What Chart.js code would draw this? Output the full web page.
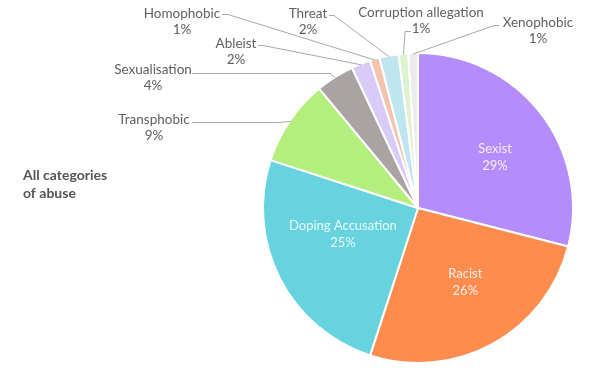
<!DOCTYPE html>
<html>
<head>
<meta charset="utf-8">
<script src="https://cdn.jsdelivr.net/npm/chart.js@4/dist/chart.umd.min.js"></script>
<style>
  html, body { margin: 0; padding: 0; background: #fff; }
  #wrap { width: 598px; height: 372px; }
</style>
</head>
<body>
<div id="wrap"><canvas id="abuse-pie" width="598" height="372"></canvas></div>
<script>
'use strict';

// ── Data ──────────────────────────────────────────────────────────────────────

const categories = ['Sexist', 'Racist', 'Doping Accusation', 'Transphobic', 'Sexualisation',
                    'Ableist', 'Homophobic', 'Threat', 'Corruption allegation', 'Xenophobic'];
const shares     = [29, 26, 25, 9, 4, 2, 1, 2, 1, 1];
const titleLines = ['All categories', 'of abuse'];

// ── Styles ────────────────────────────────────────────────────────────────────

const sliceColors = ['#b48cfb', '#fd8c4e', '#67d3df', '#b4ef7d', '#a9a3a3',
                     '#d8cbf7', '#f4c3ae', '#bfe5ee', '#def2cf', '#ebebed'];

// inside labels: small nudge from the mid-angle point
const insideNudge = {
  'Sexist':            [6, 4],
  'Racist':            [4, -5],
  'Doping Accusation': [5, -15]
};

// outside callouts: text centre, leader start and elbow; the end sits on the slice
const callouts = {
  'Homophobic':            { x: 182, y: 14, from: [222, 14], elbow: [228, 14] },
  'Ableist':               { x: 236, y: 44, from: [258, 45], elbow: [263, 45] },
  'Sexualisation':         { x: 153, y: 70, from: [192, 73], elbow: [330, 73] },
  'Transphobic':           { x: 154, y: 120, from: [192, 122], elbow: [278, 122] },
  'Threat':                { x: 308, y: 14, from: [329, 15], elbow: [334, 15] },
  'Corruption allegation': { x: 421, y: 13, from: [411, 31], elbow: [405, 31] },
  'Xenophobic':            { x: 538, y: 23, from: [499, 25], elbow: [494, 25] }
};

const FONT = 'Lato, "Liberation Sans", sans-serif';

// ── Label plugin ──────────────────────────────────────────────────────────────

const pieLabels = {
  id: 'pieLabels',
  afterDatasetsDraw(chart) {
    const ctx = chart.ctx;
    const meta = chart.getDatasetMeta(0);
    ctx.save();
    ctx.textAlign = 'center';
    ctx.textBaseline = 'middle';

    meta.data.forEach((arc, i) => {
      const name = categories[i];
      const pct = shares[i] + '%';
      const { x, y, startAngle, endAngle, outerRadius } =
        arc.getProps(['x', 'y', 'startAngle', 'endAngle', 'outerRadius'], true);
      const mid = (startAngle + endAngle) / 2;

      const nudge = insideNudge[name];
      if (nudge) {
        const r = outerRadius * 0.58;
        const cx = x + Math.cos(mid) * r + nudge[0];
        const cy = y + Math.sin(mid) * r + nudge[1];
        ctx.fillStyle = 'rgba(255,255,255,0.85)';
        ctx.font = '13px ' + FONT;
        ctx.fillText(name, cx, cy - 8);
        ctx.fillText(pct, cx, cy + 9);
        return;
      }

      const c = callouts[name];
      if (!c) return;
      const ex = x + Math.cos(mid) * (outerRadius - 1);
      const ey = y + Math.sin(mid) * (outerRadius - 1);
      ctx.strokeStyle = '#a8a8a8';
      ctx.lineWidth = 1;
      ctx.beginPath();
      ctx.moveTo(c.from[0], c.from[1] + 0.5);
      ctx.lineTo(c.elbow[0], c.elbow[1] + 0.5);
      ctx.lineTo(ex, ey);
      ctx.stroke();

      ctx.fillStyle = '#606060';
      ctx.font = '13.5px ' + FONT;
      ctx.fillText(name, c.x, c.y);
      ctx.fillText(pct, c.x, c.y + 16);
    });

    // side title
    ctx.textAlign = 'left';
    ctx.fillStyle = '#555555';
    ctx.font = 'bold 14px ' + FONT;
    titleLines.forEach((t, k) => ctx.fillText(t, 23, 175 + k * 18));
    ctx.restore();
  }
};

// ── Chart ─────────────────────────────────────────────────────────────────────

new Chart(document.getElementById('abuse-pie'), {
  type: 'pie',
  data: {
    labels: categories,
    datasets: [{
      data: shares,
      backgroundColor: sliceColors,
      borderColor: '#ffffff',
      borderWidth: 2
    }]
  },
  options: {
    responsive: false,
    animation: false,
    layout: { padding: { left: 262, right: 24, top: 52, bottom: 8 } },
    plugins: {
      legend: { display: false },
      tooltip: { enabled: false }
    }
  },
  plugins: [pieLabels]
});
</script>
</body>
</html>
